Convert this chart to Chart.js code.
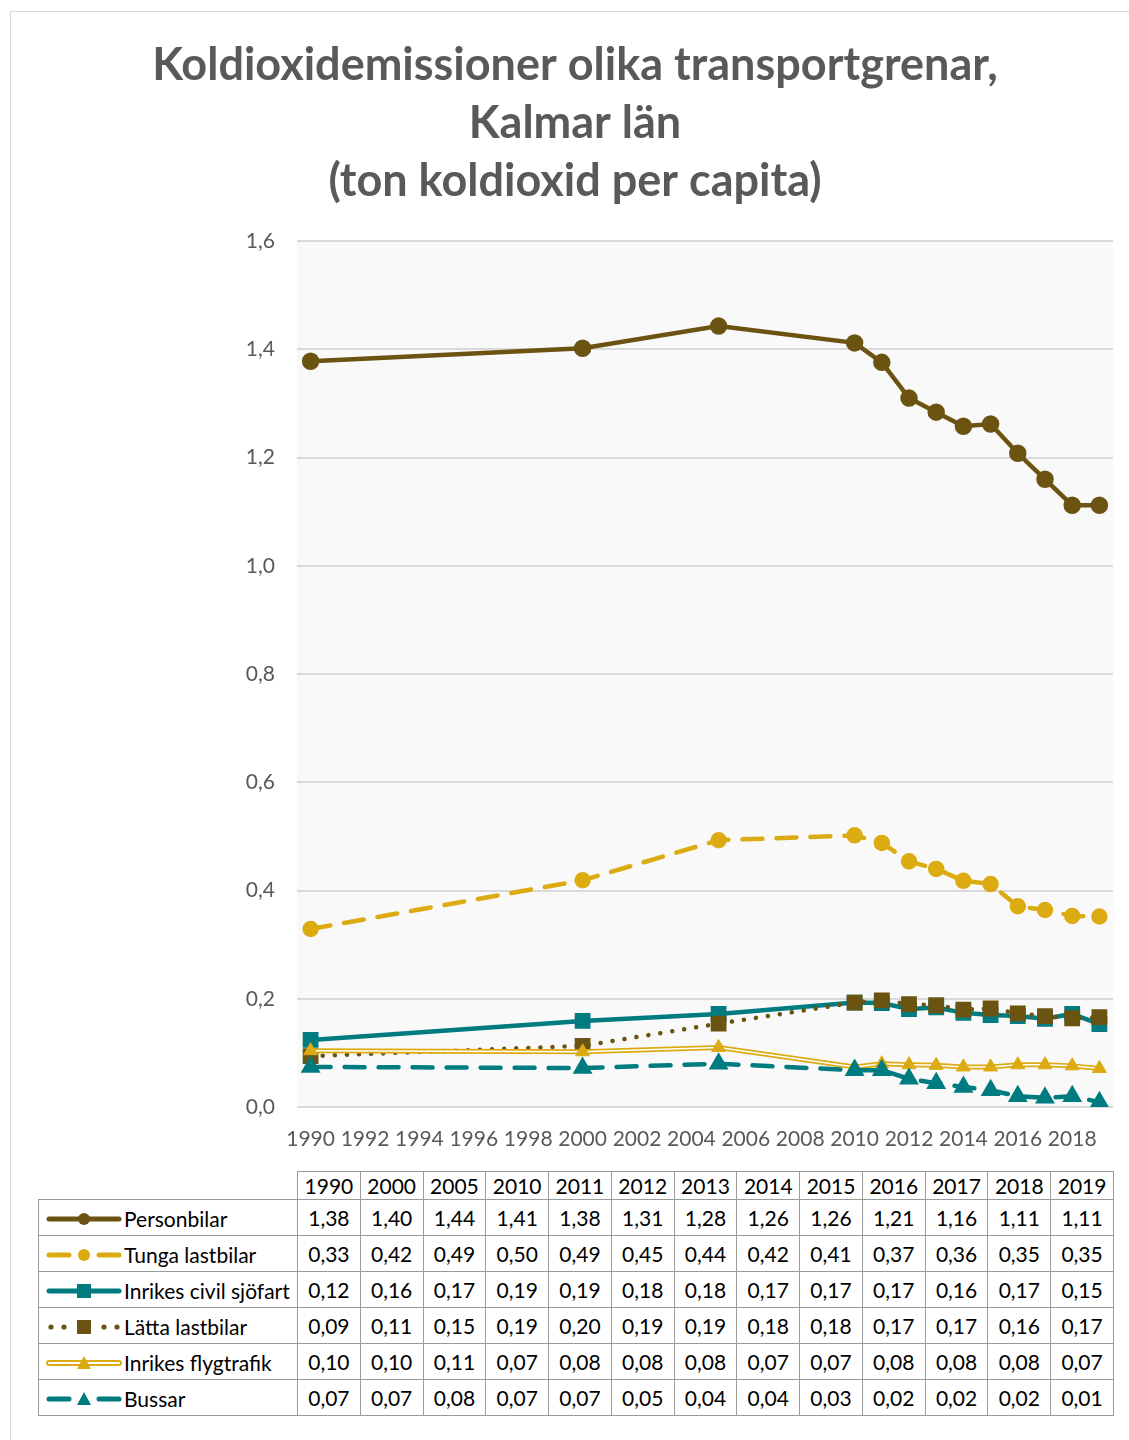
<!DOCTYPE html>
<html>
<head>
<meta charset="utf-8">
<script src="https://cdn.jsdelivr.net/npm/chart.js@4.4.1/dist/chart.umd.min.js"></script>
<style>
  body { margin: 0; background: #fff; font-family: Lato, "Open Sans", sans-serif; }
  #frame { position: absolute; left: 10px; top: 11px; width: 1130px; height: 1440px; border: 1px solid #d9d9d9; box-sizing: border-box; }
  #wrap { position: absolute; left: 37px; top: 0; width: 1092px; height: 1165px; }
  #dt { position: absolute; left: 38px; top: 1171px; border-collapse: collapse; table-layout: fixed; font-size: 21px; color: #000; }
  #dt td, #dt th { border: 1.5px solid #9a9a9a; padding: 0; text-align: center; font-weight: normal; white-space: nowrap; overflow: hidden; }
  #dt tr.head td, #dt tr.head th { height: 27px; }
  #dt tr.row td { height: 35px; }
  #dt td.blank { border-top: none; border-left: none; }
  #dt td.lab { text-align: left; }
  #dt td.lab svg { vertical-align: middle; margin-left: 6px; margin-right: 1px; }
  #dt td.lab span { vertical-align: middle; }
</style>
</head>
<body>
<div id="frame"></div>
<div id="wrap"><canvas id="chart" width="1092" height="1165"></canvas></div>
<table id="dt"></table>
<script>
// kategorier (år) och tickår
const years = [1990, 2000, 2005, 2010, 2011, 2012, 2013, 2014, 2015, 2016, 2017, 2018, 2019];
const tickYears = [1990, 1992, 1994, 1996, 1998, 2000, 2002, 2004, 2006, 2008, 2010, 2012, 2014, 2016, 2018];

// värden, ton koldioxid per capita
const personbilar = [1.378, 1.402, 1.443, 1.412, 1.376, 1.310, 1.284, 1.258, 1.262, 1.208, 1.160, 1.112, 1.112];
const tungaLastbilar = [0.329, 0.419, 0.493, 0.502, 0.488, 0.454, 0.440, 0.418, 0.412, 0.371, 0.364, 0.353, 0.352];
const sjofart = [0.124, 0.159, 0.172, 0.193, 0.192, 0.181, 0.184, 0.174, 0.170, 0.168, 0.163, 0.172, 0.153];
const lattaLastbilar = [0.094, 0.113, 0.154, 0.193, 0.197, 0.190, 0.188, 0.180, 0.182, 0.173, 0.168, 0.164, 0.166];
const flygtrafik = [0.104, 0.102, 0.110, 0.074, 0.080, 0.078, 0.077, 0.074, 0.074, 0.078, 0.078, 0.076, 0.071];
const bussar = [0.074, 0.072, 0.080, 0.068, 0.068, 0.052, 0.044, 0.037, 0.031, 0.020, 0.017, 0.020, 0.009];

const brown = '#6b5312';
const gold = '#dcab12';
const teal = '#007b80';

const series = [
    { name: 'Personbilar', data: personbilar, color: brown, key: 'solid', marker: 'circle' },
    { name: 'Tunga lastbilar', data: tungaLastbilar, color: gold, key: 'dash', marker: 'circle' },
    { name: 'Inrikes civil sjöfart', data: sjofart, color: teal, key: 'solid', marker: 'rect' },
    { name: 'Lätta lastbilar', data: lattaLastbilar, color: brown, key: 'dot', marker: 'rect' },
    { name: 'Inrikes flygtrafik', data: flygtrafik, color: gold, key: 'double', marker: 'triangle' },
    { name: 'Bussar', data: bussar, color: teal, key: 'dash', marker: 'triangle' }
];

function pts(arr) {
    return arr.map((v, i) => ({ x: years[i], y: v }));
}

let datasets = [
    {
        label: 'Personbilar', data: pts(personbilar), order: 60,
        borderColor: brown, backgroundColor: brown, borderWidth: 4.5,
        pointStyle: 'circle', pointRadius: 6.5, tension: 0
    },
    {
        label: 'Tunga lastbilar', data: pts(tungaLastbilar), order: 50,
        borderColor: gold, backgroundColor: gold, borderWidth: 4.5,
        borderDash: [20, 14], borderCapStyle: 'round',
        pointStyle: 'circle', pointRadius: 6
    },
    {
        label: 'Inrikes civil sjöfart', data: pts(sjofart), order: 40,
        borderColor: teal, backgroundColor: teal, borderWidth: 4.5,
        pointStyle: 'rect', pointRadius: 8
    },
    {
        label: 'Lätta lastbilar', data: pts(lattaLastbilar), order: 30,
        borderColor: brown, backgroundColor: brown, borderWidth: 4.5,
        borderDash: [0.1, 12], borderCapStyle: 'round',
        pointStyle: 'rect', pointRadius: 8
    },
    {
        label: 'Inrikes flygtrafik', data: pts(flygtrafik), order: 22,
        borderColor: gold, borderWidth: 5, pointRadius: 0
    },
    {
        label: 'Inrikes flygtrafik inre', data: pts(flygtrafik), order: 21,
        borderColor: '#ffffff', borderWidth: 1.5, pointRadius: 0
    },
    {
        label: 'Inrikes flygtrafik punkter', data: pts(flygtrafik), order: 20, showLine: false,
        borderColor: gold, backgroundColor: gold, borderWidth: 1,
        pointStyle: 'triangle', pointRadius: 8
    },
    {
        label: 'Bussar', data: pts(bussar), order: 10,
        borderColor: teal, backgroundColor: teal, borderWidth: 4.5,
        borderDash: [20, 14], borderCapStyle: 'round',
        pointStyle: 'triangle', pointRadius: 7
    }
];

const plotBg = {
    id: 'plotBg',
    beforeDraw(chart) {
        const a = chart.chartArea;
        const c = chart.ctx;
        c.save();
        c.fillStyle = '#f9f9f9';
        c.fillRect(a.left, a.top, a.right - a.left, a.bottom - a.top);
        c.restore();
    }
};

const ctx = document.getElementById('chart').getContext('2d');
const chart = new Chart(ctx, {
    type: 'line',
    data: { datasets: datasets },
    plugins: [plotBg],
    options: {
        responsive: false,
        animation: false,
        layout: { padding: { left: 0, right: 16, top: 0, bottom: 0 } },
        plugins: {
            legend: { display: false },
            tooltip: { enabled: false },
            title: {
                display: true,
                text: ['Koldioxidemissioner olika transportgrenar,', 'Kalmar län', '(ton koldioxid per capita)'],
                color: '#595959',
                font: { family: 'Lato', size: 45, weight: 'bold', lineHeight: 1.29 },
                padding: { top: 36, bottom: 31 }
            }
        },
        scales: {
            x: {
                type: 'linear',
                min: 1989.5,
                max: 2019.5,
                grid: { display: false },
                border: { display: false },
                afterBuildTicks: s => { s.ticks = tickYears.map(v => ({ value: v })); },
                afterFit: s => { s.height = 58; },
                ticks: {
                    autoSkip: false, maxRotation: 0, padding: 12,
                    color: '#595959', font: { family: 'Lato', size: 21 },
                    callback: v => String(v)
                }
            },
            y: {
                min: 0,
                max: 1.6,
                grid: { color: '#d9d9d9', lineWidth: 2, drawTicks: false },
                border: { display: false },
                afterFit: s => { s.width = 260; },
                ticks: {
                    stepSize: 0.2, padding: 22,
                    color: '#595959', font: { family: 'Lato', size: 21 },
                    callback: v => v.toFixed(1).replace('.', ',')
                }
            }
        }
    }
});

// datatabell med förklaringar
function keySvg(s) {
    const c = s.color;
    let g = '';
    if (s.key === 'solid') {
        g += `<line x1="4" y1="10" x2="74" y2="10" stroke="${c}" stroke-width="5" stroke-linecap="round"/>`;
    } else if (s.key === 'dash') {
        g += `<line x1="4" y1="10" x2="24" y2="10" stroke="${c}" stroke-width="5" stroke-linecap="round"/>`;
        g += `<line x1="54" y1="10" x2="74" y2="10" stroke="${c}" stroke-width="5" stroke-linecap="round"/>`;
    } else if (s.key === 'dot') {
        [6, 19, 59, 72].forEach(x => { g += `<circle cx="${x}" cy="10" r="2.6" fill="${c}"/>`; });
    } else if (s.key === 'double') {
        g += `<line x1="4" y1="10" x2="74" y2="10" stroke="${c}" stroke-width="6" stroke-linecap="round"/>`;
        g += `<line x1="4" y1="10" x2="74" y2="10" stroke="#fff" stroke-width="2" stroke-linecap="round"/>`;
    }
    if (s.marker === 'circle') g += `<circle cx="39" cy="10" r="6" fill="${c}"/>`;
    if (s.marker === 'rect') g += `<rect x="32" y="3" width="14" height="14" fill="${c}"/>`;
    if (s.marker === 'triangle') g += `<polygon points="39,3 46,16 32,16" fill="${c}"/>`;
    return `<svg width="78" height="20">${g}</svg>`;
}

const table = document.getElementById('dt');
const colW = (1113 - 297) / years.length;
let html = '<colgroup><col style="width:259px">' + years.map(() => `<col style="width:${colW}px">`).join('') + '</colgroup>';
html += '<tr class="head"><td class="blank"></td>' + years.map(y => `<th>${y}</th>`).join('') + '</tr>';
series.forEach(s => {
    html += `<tr class="row"><td class="lab">${keySvg(s)}<span>${s.name}</span></td>`;
    html += s.data.map(v => `<td>${v.toFixed(2).replace('.', ',')}</td>`).join('') + '</tr>';
});
table.innerHTML = html;
</script>
</body>
</html>
